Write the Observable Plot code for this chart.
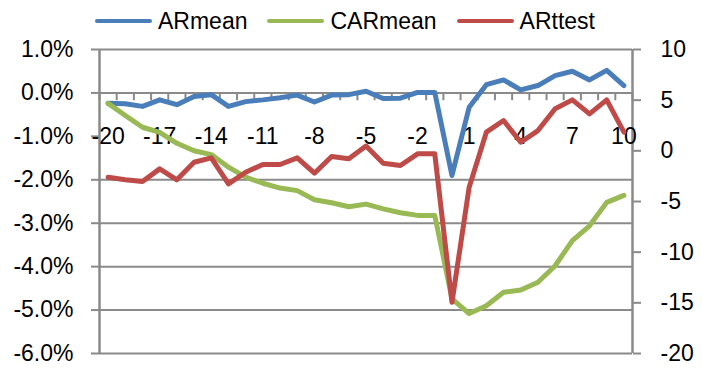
<!DOCTYPE html>
<html>
<head>
<meta charset="utf-8">
<script src="https://cdn.jsdelivr.net/npm/d3@7"></script>
<script src="https://cdn.jsdelivr.net/npm/@observablehq/plot@0.6"></script>
<style>
  html, body { margin: 0; padding: 0; background: #fff; }
  body { width: 702px; height: 369px; overflow: hidden; font-family: "Liberation Sans", Arial, sans-serif; }
  #legend { height: 34px; padding-top: 8px; display: flex; align-items: center; padding-left: 95px; box-sizing: border-box; font-size: 23px; line-height: 26px; color: #000; }
  .item { display: flex; align-items: center; margin-right: 20px; }
  .sw { width: 57px; height: 4px; border-radius: 2px; margin-right: 6px; }
  svg text { font-family: "Liberation Sans", Arial, sans-serif; }
  #chart svg { display: block; }
</style>
</head>
<body>
<div id="legend"></div>
<div id="chart"></div>
<script>
// Event day categories
const days = [-20,-19,-18,-17,-16,-15,-14,-13,-12,-11,-10,-9,-8,-7,-6,-5,-4,-3,-2,-1,0,1,2,3,4,5,6,7,8,9,10];
// ARmean (%), left axis
const arMean = [-0.24,-0.25,-0.31,-0.16,-0.27,-0.08,-0.04,-0.31,-0.20,-0.16,-0.11,-0.05,-0.21,-0.05,-0.04,0.04,-0.13,-0.12,0.01,0.01,-1.90,-0.33,0.19,0.30,0.07,0.17,0.40,0.50,0.30,0.52,0.17];
// CARmean (%), left axis
const carMean = [-0.24,-0.52,-0.79,-0.91,-1.16,-1.33,-1.42,-1.71,-1.94,-2.08,-2.19,-2.25,-2.46,-2.53,-2.62,-2.56,-2.67,-2.76,-2.82,-2.82,-4.74,-5.08,-4.90,-4.59,-4.54,-4.36,-3.98,-3.40,-3.06,-2.52,-2.36];
// ARttest, right axis
const arTtest = [-2.61,-2.86,-3.03,-1.78,-2.86,-1.13,-0.69,-3.26,-2.11,-1.35,-1.35,-0.69,-2.21,-0.56,-0.79,0.47,-1.22,-1.45,-0.30,-0.30,-14.95,-3.59,1.84,2.99,0.85,2.00,4.15,5.03,3.65,5.03,1.84];

const seriesNames = ["ARmean", "CARmean", "ARttest"];
const seriesColors = ["#4a7ebb", "#98b954", "#be4b48"];

const leftTicks = [1, 0, -1, -2, -3, -4, -5, -6];
const gridTicks = [1, -2, -3, -4, -5, -6];
const rightTicks = [10, 5, 0, -5, -10, -15, -20];
const xLabels = [-20, -17, -14, -11, -8, -5, -2, 1, 4, 7, 10];
const xLabelLevel = -1;      // x labels sit on the -1.0% level
const catTickLen = 0.18;     // category tick length in % units

const leftDomain = [-6, 1];
const rightDomain = [-20, 10];
const toLeft = t => leftDomain[0] + (t - rightDomain[0]) * (leftDomain[1] - leftDomain[0]) / (rightDomain[1] - rightDomain[0]);
const fromLeft = v => rightDomain[0] + (v - leftDomain[0]) * (rightDomain[1] - rightDomain[0]) / (leftDomain[1] - leftDomain[0]);

const xMin = days[0] - 0.5, xMax = days[days.length - 1] + 0.5;
const boundaries = days.map(d => d - 0.5).concat([xMax]);

const rows = [];
days.forEach((d, i) => rows.push({day: d, value: arMean[i], series: seriesNames[0]}));
days.forEach((d, i) => rows.push({day: d, value: carMean[i], series: seriesNames[1]}));
days.forEach((d, i) => rows.push({day: d, value: toLeft(arTtest[i]), series: seriesNames[2]}));

// Legend
const legend = document.getElementById("legend");
seriesNames.forEach((n, i) => {
  const it = document.createElement("div");
  it.className = "item";
  const sw = document.createElement("div");
  sw.className = "sw";
  sw.style.background = seriesColors[i];
  const tx = document.createElement("span");
  tx.textContent = n;
  it.appendChild(sw); it.appendChild(tx);
  legend.appendChild(it);
});

const gray = "#8a8a8a";
const chart = Plot.plot({
  width: 702,
  height: 335,
  marginTop: 15,
  marginBottom: 16,
  marginLeft: 99,
  marginRight: 70,
  style: {fontFamily: "'Liberation Sans', Arial, sans-serif", fontSize: "23px", color: "#000", background: "#fff"},
  x: {type: "linear", domain: [xMin, xMax], axis: null},
  y: {domain: leftDomain, axis: null},
  color: {domain: seriesNames, range: seriesColors},
  marks: [
    Plot.ruleY(gridTicks, {stroke: gray, strokeWidth: 2}),
    Plot.ruleY([0], {stroke: gray, strokeWidth: 2}),
    Plot.ruleX(boundaries, {y1: 0, y2: -catTickLen, stroke: gray, strokeWidth: 2}),
    Plot.ruleX([xMin, xMax], {stroke: gray, strokeWidth: 2.5}),
    Plot.axisY({ticks: leftTicks, anchor: "left", label: null, tickSize: 8, tickPadding: 18, tickFormat: d => d.toFixed(1) + "%", stroke: gray, strokeWidth: 2, fill: "#000", fontSize: 23}),
    Plot.axisY({ticks: rightTicks.map(toLeft), anchor: "right", label: null, tickSize: 8, tickPadding: 20, tickFormat: d => String(Math.round(fromLeft(d))), stroke: gray, strokeWidth: 2, fill: "#000", fontSize: 23, textAnchor: "start"}),
    Plot.text(xLabels, {x: d => d, y: () => xLabelLevel, text: d => String(d), fontSize: 23, fill: "#000", textAnchor: "middle", lineAnchor: "middle"}),
    Plot.line(rows, {x: "day", y: "value", z: "series", stroke: "series", strokeWidth: 5, strokeLinejoin: "round", strokeLinecap: "round"})
  ]
});
document.getElementById("chart").appendChild(chart);
</script>
</body>
</html>
